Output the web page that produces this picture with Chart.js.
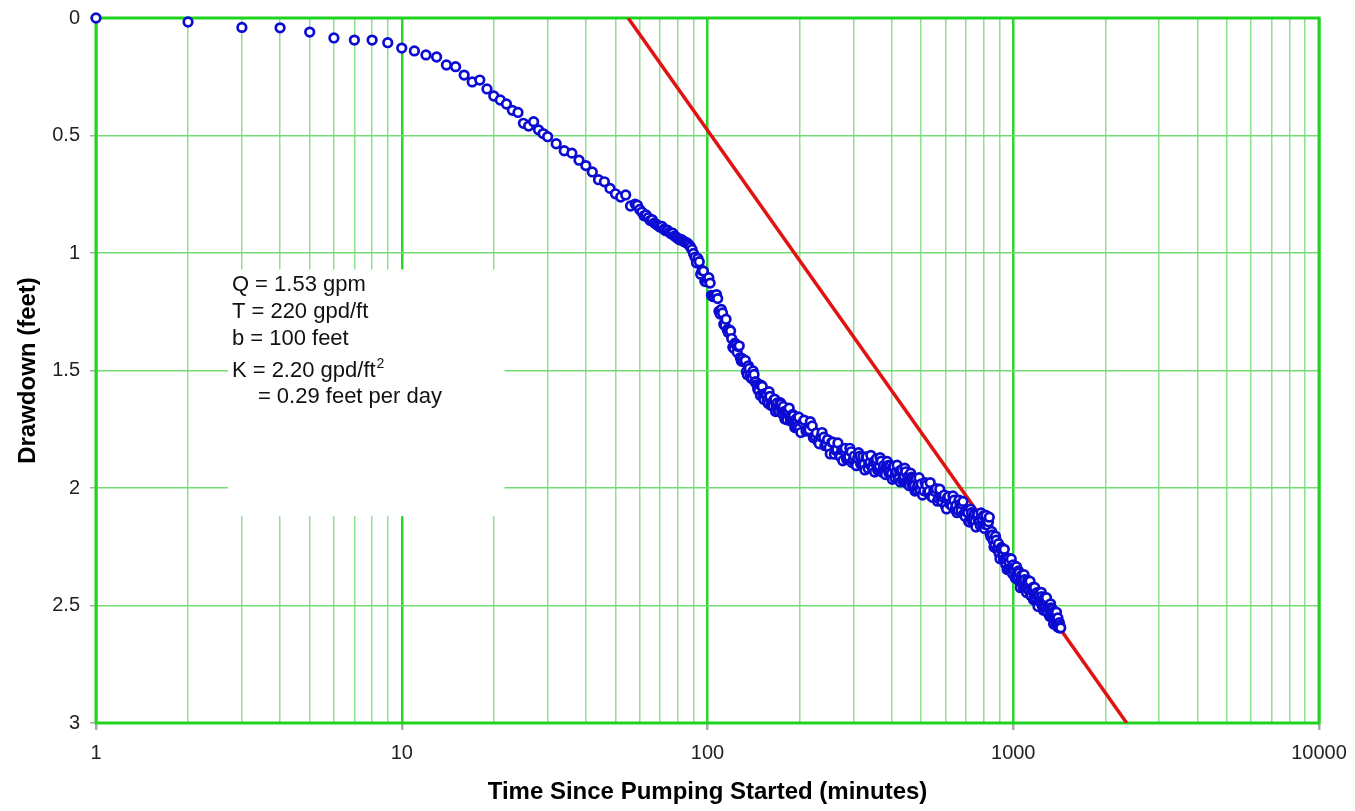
<!DOCTYPE html>
<html>
<head>
<meta charset="utf-8">
<title>Drawdown vs. time since pumping started</title>
<script src="https://cdn.jsdelivr.net/npm/chart.js@4.4.0/dist/chart.umd.min.js"></script>
<style>
  html, body { margin: 0; padding: 0; background: #fff; }
  #wrap { width: 1355px; height: 811px; position: relative; }
</style>
</head>
<body>
<div id="wrap"><canvas id="chart"></canvas></div>
<script>
// Observed drawdown in the pumped well (minutes, feet)
const timeMin = [
  1, 2, 3, 4, 5, 6, 7, 8, 9, 10, 11, 12, 13, 14, 15, 16, 17, 18, 19, 20,
  21, 22, 23, 24, 25, 26, 27, 28, 29, 30,
  32, 34, 36, 38, 40, 42, 44, 46, 48, 50, 52, 54, 56, 58,
  59, 60, 61, 62, 63, 64, 65, 66, 67, 68, 69, 70, 71, 72, 73, 74, 75, 76, 77, 78,
  79, 80, 81, 82, 83, 84, 85, 86, 87, 88, 89, 90, 91,
  92, 94, 96, 98, 100, 102, 104, 106, 108, 110, 112, 114, 116, 118, 120, 122, 124, 126, 128, 130,
  132, 134, 136, 138, 140, 142, 144, 146, 148, 150, 152, 154, 156, 158, 160, 162, 164, 166, 168, 170,
  172, 174, 176, 178, 180, 182, 184, 186, 188, 190, 192, 194, 196, 198, 200,
  205, 210, 215, 220, 225, 230, 235, 240, 245, 250, 255, 260, 265, 270, 275, 280, 285, 290, 295, 300,
  305, 310, 315, 320, 325, 330, 335, 340, 345, 350, 355, 360, 365, 370, 375, 380, 385, 390, 395, 400,
  405, 410, 415, 420, 425, 430, 435, 440, 445, 450, 455, 460, 465, 470, 475, 480, 485, 490, 495, 500,
  510, 520, 530, 540, 550, 560, 570, 580, 590, 600, 610, 620, 630, 640, 650, 660, 670, 680, 690, 700,
  710, 720, 730, 740, 750, 760, 770, 780, 790, 800, 810, 820, 830, 840, 850, 860, 870, 880, 890, 900,
  910, 920, 930, 940, 950, 960, 970, 980, 990, 1000, 1010, 1020, 1030, 1040, 1050, 1060, 1070, 1080, 1090, 1100,
  1110, 1120, 1130, 1140, 1150, 1160, 1170, 1180, 1190, 1200, 1210, 1220, 1230, 1240, 1250, 1260, 1270, 1280, 1290, 1300,
  1310, 1320, 1330, 1340, 1350, 1360, 1370, 1380, 1390, 1400, 1410, 1420, 1430
];
const drawdownFt = [
  0.000, 0.017, 0.040, 0.042, 0.060, 0.085, 0.094, 0.094, 0.105, 0.128, 0.140, 0.157, 0.166, 0.200, 0.207, 0.243, 0.272, 0.264, 0.302, 0.332,
  0.349, 0.366, 0.393, 0.402, 0.448, 0.460, 0.441, 0.476, 0.492, 0.505,
  0.535, 0.565, 0.575, 0.605, 0.628, 0.655, 0.688, 0.697, 0.725, 0.748, 0.762, 0.753, 0.800, 0.792,
  0.797, 0.815, 0.826, 0.842, 0.838, 0.850, 0.862, 0.858, 0.872, 0.878, 0.884, 0.890, 0.887, 0.899, 0.905, 0.903, 0.912, 0.918, 0.916, 0.928,
  0.932, 0.938, 0.944, 0.942, 0.948, 0.952, 0.955, 0.958, 0.966, 0.974, 0.985, 1.002, 1.018,
  1.042, 1.037, 1.074, 1.120, 1.110, 1.128, 1.185, 1.185, 1.194, 1.260, 1.255, 1.308, 1.327, 1.327, 1.364, 1.405, 1.390, 1.398, 1.445, 1.450,
  1.459, 1.505, 1.480, 1.518, 1.532, 1.517, 1.549, 1.580, 1.560, 1.563, 1.605, 1.600, 1.604, 1.640, 1.610, 1.638, 1.652, 1.622, 1.654, 1.670,
  1.650, 1.643, 1.685, 1.675, 1.674, 1.710, 1.675, 1.698, 1.712, 1.687, 1.714, 1.735, 1.710, 1.698, 1.745,
  1.721, 1.758, 1.752, 1.736, 1.780, 1.802, 1.782, 1.784, 1.816, 1.829, 1.805, 1.856, 1.836, 1.861, 1.838, 1.841, 1.878, 1.867, 1.846, 1.880,
  1.897, 1.872, 1.864, 1.891, 1.899, 1.870, 1.916, 1.891, 1.911, 1.888, 1.886, 1.923, 1.907, 1.886, 1.920, 1.937, 1.907, 1.904, 1.926, 1.939,
  1.910, 1.956, 1.931, 1.956, 1.928, 1.931, 1.968, 1.952, 1.931, 1.970, 1.982, 1.957, 1.954, 1.981, 1.989, 1.960, 2.011, 1.986, 2.006, 1.983,
  2.012, 1.987, 2.014, 2.035, 2.010, 2.003, 2.045, 2.040, 2.039, 2.075, 2.040, 2.068, 2.077, 2.052, 2.074, 2.095, 2.070, 2.068, 2.110, 2.100,
  2.104, 2.145, 2.105, 2.133, 2.142, 2.112, 2.139, 2.160, 2.130, 2.118, 2.155, 2.145, 2.144, 2.195, 2.185, 2.223, 2.242, 2.222, 2.254, 2.280,
  2.260, 2.258, 2.305, 2.300, 2.304, 2.345, 2.315, 2.343, 2.352, 2.327, 2.354, 2.380, 2.360, 2.353, 2.400, 2.390, 2.389, 2.425, 2.390, 2.418,
  2.427, 2.402, 2.434, 2.455, 2.430, 2.423, 2.465, 2.455, 2.454, 2.490, 2.455, 2.483, 2.487, 2.462, 2.489, 2.510, 2.485, 2.478, 2.520, 2.510,
  2.509, 2.545, 2.510, 2.538, 2.552, 2.527, 2.554, 2.580, 2.555, 2.553, 2.595, 2.585, 2.595
];

// In-between logger readings after the first 90 minutes
const timeMinLate = [
  93, 95, 97, 99, 101, 103, 105, 107, 109, 111, 113, 115, 117, 119, 121, 123, 125, 127, 129, 131,
  133, 135, 137, 139, 141, 143, 145, 147, 149, 151, 153, 155, 157, 159, 161, 163, 165, 167, 169, 171,
  173, 175, 177, 179, 181, 183, 185, 187, 189, 191, 193, 195, 197, 199,
  202, 207, 212, 217, 222, 227, 232, 237, 242, 247, 252, 257, 262, 267, 272, 277, 282, 287, 292, 297,
  302, 307, 312, 317, 322, 327, 332, 337, 342, 347, 352, 357, 362, 367, 372, 377, 382, 387, 392, 397,
  402, 407, 412, 417, 422, 427, 432, 437, 442, 447, 452, 457, 462, 467, 472, 477, 482, 487, 492, 497,
  505, 515, 525, 535, 545, 555, 565, 575, 585, 595, 605, 615, 625, 635, 645, 655, 665, 675, 685, 695,
  705, 715, 725, 735, 745, 755, 765, 775, 785, 795, 805, 815, 825, 835, 845, 855, 865, 875, 885, 895,
  905, 915, 925, 935, 945, 955, 965, 975, 985, 995, 1005, 1015, 1025, 1035, 1045, 1055, 1065, 1075, 1085, 1095,
  1105, 1115, 1125, 1135, 1145, 1155, 1165, 1175, 1185, 1195, 1205, 1215, 1225, 1235, 1245, 1255, 1265, 1275, 1285, 1295,
  1305, 1315, 1325, 1335, 1345, 1355, 1365, 1375, 1385, 1395, 1405, 1415, 1425
];
const drawdownFtLate = [
  1.023, 1.090, 1.077, 1.122, 1.105, 1.180, 1.182, 1.177, 1.248, 1.240, 1.303, 1.282, 1.338, 1.332, 1.401, 1.384, 1.422, 1.395, 1.460, 1.462,
  1.457, 1.518, 1.491, 1.533, 1.502, 1.548, 1.561, 1.585, 1.606, 1.568, 1.623, 1.597, 1.625, 1.590, 1.648, 1.639, 1.624, 1.675, 1.638, 1.673,
  1.637, 1.676, 1.653, 1.706, 1.675, 1.676, 1.660, 1.715, 1.707, 1.692, 1.743, 1.706, 1.738, 1.699,
  1.764, 1.711, 1.754, 1.718, 1.786, 1.766, 1.812, 1.764, 1.820, 1.794, 1.855, 1.805, 1.838, 1.808, 1.867, 1.884, 1.831, 1.872, 1.831, 1.892,
  1.864, 1.905, 1.850, 1.898, 1.867, 1.923, 1.868, 1.896, 1.861, 1.917, 1.932, 1.876, 1.915, 1.871, 1.932, 1.904, 1.943, 1.887, 1.936, 1.904,
  1.963, 1.908, 1.936, 1.903, 1.960, 1.974, 1.921, 1.960, 1.916, 1.979, 1.952, 1.990, 1.937, 1.988, 1.957, 2.013, 1.960, 1.991, 1.956, 2.010,
  2.030, 1.977, 2.018, 1.977, 2.040, 2.015, 2.056, 2.005, 2.059, 2.030, 2.089, 2.036, 2.067, 2.034, 2.090, 2.105, 2.052, 2.095, 2.057, 2.120,
  2.097, 2.143, 2.090, 2.139, 2.110, 2.166, 2.111, 2.142, 2.106, 2.160, 2.172, 2.117, 2.158, 2.124, 2.207, 2.200, 2.251, 2.205, 2.261, 2.237,
  2.301, 2.253, 2.289, 2.261, 2.325, 2.347, 2.299, 2.343, 2.302, 2.365, 2.340, 2.383, 2.335, 2.389, 2.362, 2.424, 2.371, 2.402, 2.369, 2.428,
  2.445, 2.392, 2.435, 2.397, 2.460, 2.435, 2.476, 2.423, 2.474, 2.445, 2.504, 2.451, 2.479, 2.444, 2.503, 2.520, 2.467, 2.508, 2.467, 2.530,
  2.505, 2.546, 2.493, 2.544, 2.517, 2.579, 2.526, 2.559, 2.529, 2.590, 2.578, 2.573, 2.595
];

// Straight-line (Cooper-Jacob) fit, drawdown = 0 at 55 min
const fitTime = [55, 2350];
const fitDrawdown = [0, 3];

const decadeTicks = [1, 10, 100, 1000, 10000];
const minorSteps = [1, 2, 3, 4, 5, 6, 7, 8, 9];
const drawdownTicks = [0, 0.5, 1, 1.5, 2, 2.5, 3];

const noteLines = ['Q = 1.53 gpm', 'T = 220 gpd/ft', 'b = 100 feet', 'K = 2.20 gpd/ft'];
const noteTail = '= 0.29 feet per day';

const FONT = 'Arial, "Liberation Sans", sans-serif';
Chart.defaults.font.family = FONT;

const observed = timeMin.map((t, i) => ({ x: t, y: drawdownFt[i] }))
  .concat(timeMinLate.map((t, i) => ({ x: t, y: drawdownFtLate[i] })))
  .sort((a, b) => a.x - b.x);
const fitLine = fitTime.map((t, i) => ({ x: t, y: fitDrawdown[i] }));

// white panel with the aquifer parameters, plus the green frame round the plot
const notesPanel = {
  id: 'notesPanel',
  beforeDatasetsDraw(chart) {
    const { ctx, chartArea: a, scales: { x, y } } = chart;
    const left = x.getPixelForValue(2.7);
    const right = x.getPixelForValue(21.7);
    const top = y.getPixelForValue(1.07);
    const bottom = y.getPixelForValue(2.12);
    ctx.save();
    ctx.fillStyle = '#fff';
    ctx.fillRect(left, top, right - left, bottom - top);

    ctx.strokeStyle = '#1fd41f';
    ctx.lineWidth = 3;
    ctx.strokeRect(a.left, a.top, a.right - a.left, a.bottom - a.top);

    ctx.fillStyle = '#111';
    ctx.font = '22px ' + FONT;
    ctx.textBaseline = 'alphabetic';
    const tx = left + 4;
    const baselines = [top + 22, top + 49, top + 76, top + 108];
    noteLines.forEach((s, i) => ctx.fillText(s, tx, baselines[i]));
    const kw = ctx.measureText(noteLines[3]).width;
    ctx.font = '14px ' + FONT;
    ctx.fillText('2', tx + kw + 1, top + 99);
    ctx.font = '22px ' + FONT;
    ctx.fillText(noteTail, tx + 26, top + 134);
    ctx.restore();
  }
};

const isDecade = v => decadeTicks.includes(v);

new Chart(document.getElementById('chart'), {
  type: 'scatter',
  data: {
    datasets: [
      {
        label: 'Drawdown',
        data: observed,
        pointRadius: 4.3,
        pointBorderWidth: 2.7,
        pointBorderColor: '#0b0bd2',
        pointBackgroundColor: '#ffffff',
        clip: false
      },
      {
        label: 'Fit',
        data: fitLine,
        showLine: true,
        pointRadius: 0,
        borderColor: '#e01212',
        borderWidth: 3.5
      }
    ]
  },
  options: {
    responsive: true,
    maintainAspectRatio: false,
    animation: false,
    layout: { autoPadding: false, padding: { left: 0, right: 36, top: 18, bottom: 0 } },
    plugins: {
      legend: { display: false },
      tooltip: { enabled: false }
    },
    scales: {
      x: {
        type: 'logarithmic',
        min: 1,
        max: 10000,
        afterFit(s) {
          s.height = 88;
          s.paddingLeft = 0;
          s.paddingRight = 0;
        },
        afterBuildTicks(s) {
          const ticks = [];
          decadeTicks.slice(0, -1).forEach(d => minorSteps.forEach(m => ticks.push({ value: d * m })));
          ticks.push({ value: 10000 });
          s.ticks = ticks;
        },
        ticks: {
          autoSkip: false,
          maxRotation: 0,
          padding: 11,
          color: '#222',
          font: { size: 20 },
          callback: v => (isDecade(v) ? String(v) : '')
        },
        grid: {
          color: c => (isDecade(c.tick.value) ? '#2bd62b' : '#8fe08f'),
          lineWidth: c => (isDecade(c.tick.value) ? 2.5 : 1.5),
          tickColor: c => (isDecade(c.tick.value) ? '#aaaaaa' : 'rgba(0,0,0,0)'),
          tickLength: 7
        },
        border: { display: false },
        title: {
          display: true,
          text: 'Time Since Pumping Started (minutes)',
          color: '#000',
          font: { size: 24, weight: 'bold' },
          padding: { top: 4, bottom: 4 }
        }
      },
      y: {
        type: 'linear',
        min: 0,
        max: 3,
        reverse: true,
        afterFit(s) {
          s.width = 96;
          s.paddingTop = 0;
          s.paddingBottom = 0;
        },
        afterBuildTicks(s) { s.ticks = drawdownTicks.map(v => ({ value: v })); },
        ticks: {
          padding: 10,
          color: '#222',
          font: { size: 20 },
          callback: v => String(v)
        },
        grid: {
          color: '#72dc72',
          lineWidth: 1.5,
          tickColor: '#aaaaaa',
          tickLength: 6
        },
        border: { display: false },
        title: {
          display: true,
          text: 'Drawdown (feet)',
          color: '#000',
          font: { size: 24, weight: 'bold' },
          padding: { top: 14, bottom: 4 }
        }
      }
    }
  },
  plugins: [notesPanel]
});
</script>
</body>
</html>
